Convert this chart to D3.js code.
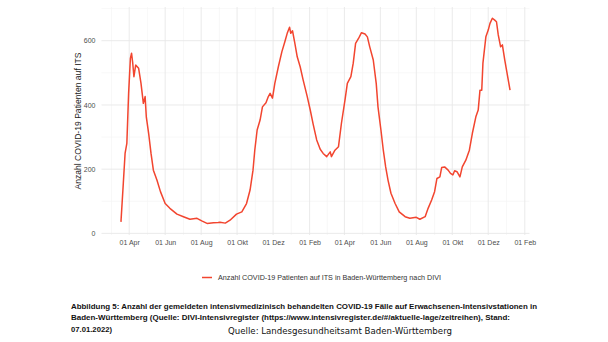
<!DOCTYPE html>
<html><head><meta charset="utf-8">
<script src="https://cdn.jsdelivr.net/npm/d3@7"></script>
<style>html,body{margin:0;padding:0;background:#fff;}svg{display:block;}</style>
</head><body>
<svg id="c" width="608" height="342"></svg>
<script>
const dates = ["2020-03-18","2020-03-22","2020-03-25","2020-03-28","2020-03-31","2020-04-03","2020-04-05","2020-04-07","2020-04-09","2020-04-12","2020-04-17","2020-04-21","2020-04-25","2020-04-28","2020-04-30","2020-05-04","2020-05-08","2020-05-12","2020-05-18","2020-05-24","2020-06-01","2020-06-09","2020-06-21","2020-07-02","2020-07-13","2020-07-25","2020-08-02","2020-08-11","2020-08-22","2020-08-30","2020-09-02","2020-09-11","2020-09-19","2020-09-30","2020-10-09","2020-10-17","2020-10-23","2020-10-28","2020-10-31","2020-11-04","2020-11-09","2020-11-13","2020-11-19","2020-11-23","2020-11-26","2020-11-30","2020-12-04","2020-12-10","2020-12-16","2020-12-21","2020-12-25","2020-12-29","2020-12-31","2021-01-03","2021-01-07","2021-01-11","2021-01-16","2021-01-21","2021-01-28","2021-02-02","2021-02-07","2021-02-13","2021-02-19","2021-02-24","2021-03-02","2021-03-08","2021-03-10","2021-03-16","2021-03-22","2021-03-27","2021-04-02","2021-04-06","2021-04-12","2021-04-16","2021-04-20","2021-04-25","2021-04-30","2021-05-06","2021-05-10","2021-05-14","2021-05-20","2021-05-25","2021-05-28","2021-06-02","2021-06-06","2021-06-10","2021-06-14","2021-06-19","2021-06-26","2021-07-03","2021-07-13","2021-07-21","2021-08-01","2021-08-07","2021-08-16","2021-08-21","2021-08-27","2021-09-01","2021-09-05","2021-09-10","2021-09-13","2021-09-18","2021-09-24","2021-09-28","2021-10-02","2021-10-05","2021-10-09","2021-10-14","2021-10-18","2021-10-24","2021-10-30","2021-11-04","2021-11-10","2021-11-14","2021-11-17","2021-11-20","2021-11-22","2021-11-27","2021-12-01","2021-12-04","2021-12-08","2021-12-12","2021-12-15","2021-12-18","2021-12-22","2021-12-25","2021-12-29","2022-01-02","2022-01-07"];
const patients = [36,156,249,280,436,545,561,530,488,524,514,467,405,426,363,311,249,197,166,130,93,78,60,52,44,47,39,31,33,34,35,32,41,60,67,93,135,197,259,322,353,394,407,426,436,421,467,519,566,597,623,642,623,631,592,550,519,478,426,385,340,291,262,249,239,254,239,259,270,343,415,467,488,530,592,607,625,621,612,581,540,467,394,322,259,207,166,125,93,67,52,47,50,44,52,78,104,130,171,176,205,207,197,187,182,195,192,176,207,228,259,311,363,384,446,446,530,612,633,654,670,664,659,618,581,587,540,498,446];
const yTicks = [0,200,400,600];
const yMinor = [100,300,500,700];
const xTickDates = ["2020-04-01","2020-06-01","2020-08-01","2020-10-01","2020-12-01","2021-02-01","2021-04-01","2021-06-01","2021-08-01","2021-10-01","2021-12-01","2022-02-01"];
const xTickLabels = ["01 Apr","01 Jun","01 Aug","01 Okt","01 Dez","01 Feb","01 Apr","01 Jun","01 Aug","01 Okt","01 Dez","01 Feb"];
const xMinorDates = ["2020-03-02","2020-05-02","2020-07-02","2020-09-01","2020-11-01","2021-01-01","2021-03-03","2021-05-02","2021-07-02","2021-09-01","2021-11-01","2022-01-01"];
const yTitle = "Anzahl COVID-19 Patienten auf ITS";
const legendLabel = "Anzahl COVID-19 Patienten auf ITS in Baden-Württemberg nach DIVI";
const captionLines = ["Abbildung 5: Anzahl der gemeldeten intensivmedizinisch behandelten COVID-19 Fälle auf Erwachsenen-Intensivstationen in","Baden-Württemberg (Quelle: DIVI-Intensivregister (https://www.intensivregister.de/#/aktuelle-lage/zeitreihen), Stand:","07.01.2022)"];
const sourceText = "Quelle: Landesgesundheitsamt Baden-Württemberg";

const parse = d3.timeParse("%Y-%m-%d");
const data = dates.map((d,i)=>({date:parse(d), value:patients[i]}));
const svg = d3.select("#c");
const L=101.5, R=529.5, T=7, B=235;
const ext = d3.extent(data, d=>d.date);
const pad = (ext[1]-ext[0])*0.05;
const x = d3.scaleTime().domain([new Date(+ext[0]-pad), new Date(+ext[1]+pad)]).range([L,R]);
const y = d3.scaleLinear().domain([-5,705]).range([B,T]);

const g = svg.append("g");
g.selectAll(".ymin").data(yMinor).join("line")
 .attr("x1",L).attr("x2",R).attr("y1",d=>y(d)).attr("y2",d=>y(d))
 .attr("stroke","#f3f3f3").attr("stroke-width",0.6);
g.selectAll(".xmin").data(xMinorDates.map(parse)).join("line")
 .attr("y1",T).attr("y2",B).attr("x1",d=>x(d)).attr("x2",d=>x(d))
 .attr("stroke","#f3f3f3").attr("stroke-width",0.6);
g.selectAll(".ymaj").data(yTicks).join("line")
 .attr("x1",L).attr("x2",R).attr("y1",d=>y(d)).attr("y2",d=>y(d))
 .attr("stroke","#e8e8e8").attr("stroke-width",0.9);
g.selectAll(".xmaj").data(xTickDates.map(parse)).join("line")
 .attr("y1",T).attr("y2",B).attr("x1",d=>x(d)).attr("x2",d=>x(d))
 .attr("stroke","#e8e8e8").attr("stroke-width",0.9);

const yAxis = d3.axisLeft(y).tickValues(yTicks).tickSize(0).tickPadding(5);
const ya = svg.append("g").attr("transform",`translate(${L-1},0)`).call(yAxis);
ya.select(".domain").remove();
ya.selectAll("text").attr("font-family","Liberation Sans, Arial, sans-serif").attr("font-size",7).attr("fill","#4d4d4d");

const xAxis = d3.axisBottom(x).tickValues(xTickDates.map(parse)).tickFormat((d,i)=>xTickLabels[i]).tickSize(0).tickPadding(4);
const xa = svg.append("g").attr("transform",`translate(0,${B+1})`).call(xAxis);
xa.select(".domain").remove();
xa.selectAll("text").attr("font-family","Liberation Sans, Arial, sans-serif").attr("font-size",7).attr("fill","#4d4d4d");

svg.append("text").attr("transform",`translate(81,${(T+B)/2}) rotate(-90)`)
 .attr("text-anchor","middle").attr("font-family","Liberation Sans, Arial, sans-serif")
 .attr("font-size",8.6).attr("fill","#1a1a1a").text(yTitle);

svg.append("path").datum(data)
 .attr("d", d3.line().x(d=>x(d.date)).y(d=>y(d.value)))
 .attr("fill","none").attr("stroke","#f2452f").attr("stroke-width",1.5).attr("stroke-linejoin","round");

svg.append("line").attr("x1",202).attr("x2",212).attr("y1",277.5).attr("y2",277.5)
 .attr("stroke","#f2452f").attr("stroke-width",1.5);
svg.append("text").attr("x",218).attr("y",280).attr("font-family","Liberation Sans, Arial, sans-serif")
 .attr("font-size",7).attr("fill","#333").attr("textLength",223).attr("lengthAdjust","spacingAndGlyphs").text(legendLabel);

const capW = [466, 439, 41];
captionLines.forEach((t,i)=>{
  svg.append("text").attr("x",71).attr("y",309+i*11.3)
   .attr("font-family","Liberation Sans, Arial, sans-serif").attr("font-weight","bold")
   .attr("font-size",8).attr("fill","#111")
   .attr("textLength",capW[i]).attr("lengthAdjust","spacingAndGlyphs").text(t);
});
svg.append("text").attr("x",228).attr("y",334).attr("font-family","DejaVu Sans, sans-serif")
 .attr("font-size",8.4).attr("fill","#111").attr("textLength",224).attr("lengthAdjust","spacingAndGlyphs").text(sourceText);
</script>
</body></html>
